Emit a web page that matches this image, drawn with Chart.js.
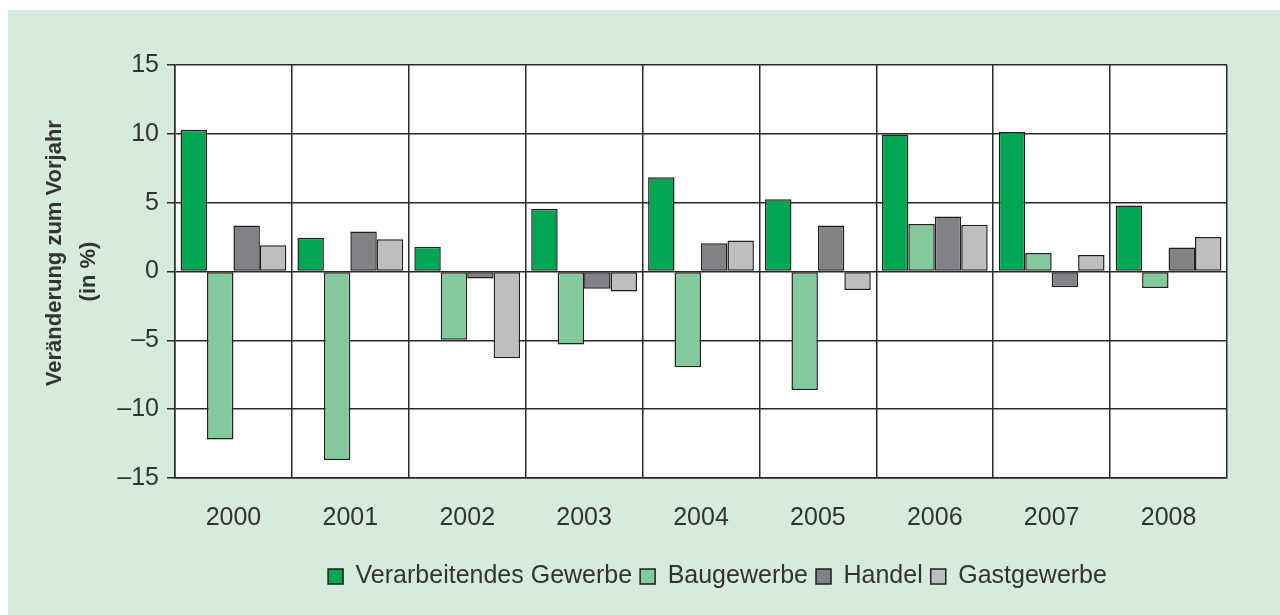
<!DOCTYPE html>
<html>
<head>
<meta charset="utf-8">
<script src="https://cdn.jsdelivr.net/npm/chart.js@4.4.1/dist/chart.umd.min.js"></script>
<style>
  html, body { margin: 0; padding: 0; background: #ffffff; }
  #panel { position: absolute; left: 8px; top: 10px; width: 1272px; height: 605px; background: #d7ebdd; }
  #panel canvas { display: block; }
</style>
</head>
<body>
<div id="panel"><canvas id="chart" width="1272" height="605"></canvas></div>
<script>
const years = ['2000', '2001', '2002', '2003', '2004', '2005', '2006', '2007', '2008'];
const verarbeitendes = [10.3, 2.45, 1.8, 4.55, 6.85, 5.25, 9.95, 10.15, 4.8];
const baugewerbe = [-12.2, -13.7, -4.95, -5.3, -6.95, -8.6, 3.45, 1.35, -1.2];
const handel = [3.35, 2.9, -0.5, -1.25, 2.05, 3.35, 4.0, -1.15, 1.75];
const gastgewerbe = [1.9, 2.35, -6.3, -1.45, 2.25, -1.35, 3.4, 1.2, 2.5];
const yTicks = [-15, -10, -5, 0, 5, 10, 15];

const textColor = '#333333';
const lineColor = '#2b2b2b';

// white plot background, legend nudged to sit under the plot like the original
const plotStyle = {
    id: 'plotStyle',
    beforeDraw: function(chart) {
        const a = chart.chartArea;
        const c = chart.ctx;
        c.save();
        c.fillStyle = '#ffffff';
        c.fillRect(a.left, a.top, a.right - a.left, a.bottom - a.top);
        c.restore();
    },
    afterLayout: function(chart) {
        chart.legend.left += 100;
        chart.legend.right += 100;
    }
};

document.addEventListener('DOMContentLoaded', function() {
    const ctx = document.getElementById('chart');
    const bar = (label, data, color) => ({
        label: label,
        data: data,
        backgroundColor: color,
        borderColor: '#231f20',
        borderWidth: 1.5,
        borderSkipped: false
    });
    new Chart(ctx, {
        type: 'bar',
        data: {
            labels: years,
            datasets: [
                bar('Verarbeitendes Gewerbe', verarbeitendes, '#00a651'),
                bar('Baugewerbe', baugewerbe, '#82ca9c'),
                bar('Handel', handel, '#808285'),
                bar('Gastgewerbe', gastgewerbe, '#bcbec0')
            ]
        },
        plugins: [plotStyle],
        options: {
            responsive: false,
            animation: false,
            devicePixelRatio: 1,
            layout: { padding: { left: 0, top: 55, right: 53, bottom: 16 } },
            datasets: { bar: { barPercentage: 1, categoryPercentage: 0.905 } },
            plugins: {
                tooltip: { enabled: false },
                legend: {
                    position: 'bottom',
                    labels: {
                        color: textColor,
                        font: { family: 'Liberation Sans', size: 25 },
                        boxWidth: 15,
                        boxHeight: 15,
                        padding: 8
                    }
                }
            },
            scales: {
                x: {
                    grid: { offset: true, color: lineColor, lineWidth: 1.5, drawTicks: false },
                    border: { color: lineColor, width: 1.5 },
                    ticks: { color: textColor, font: { family: 'Liberation Sans', size: 25 }, padding: 25 },
                    afterFit: function(scale) { scale.height = 78; }
                },
                y: {
                    min: -15,
                    max: 15,
                    afterBuildTicks: function(scale) { scale.ticks = yTicks.map(v => ({ value: v })); },
                    grid: { color: lineColor, lineWidth: 1.5, tickLength: 8 },
                    border: { color: lineColor, width: 1.5 },
                    ticks: {
                        color: textColor,
                        font: { family: 'Liberation Sans', size: 25 },
                        padding: 8,
                        callback: function(v) { return String(v).replace('-', '\u2013'); }
                    },
                    title: {
                        display: true,
                        text: ['      Veränderung zum Vorjahr', '(in %)'],
                        color: textColor,
                        font: { family: 'Liberation Sans', size: 22, weight: 'bold', lineHeight: 1.55 },
                        padding: { top: 30, bottom: 0 }
                    },
                    afterFit: function(scale) { scale.width = 167; }
                }
            }
        }
    });
});
</script>
</body>
</html>
